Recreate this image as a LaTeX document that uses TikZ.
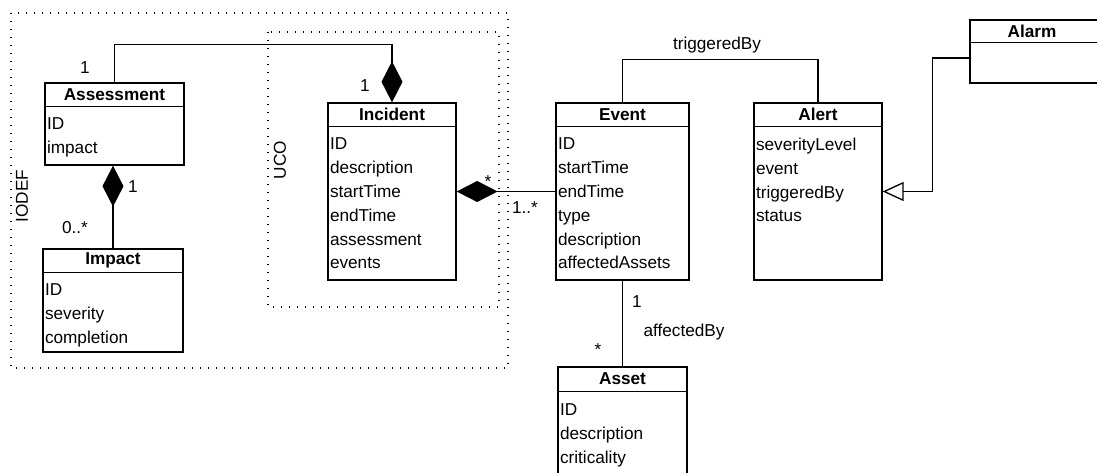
\documentclass[tikz,border=0pt]{standalone}
\usepackage{pgf,tikz}
\usepackage{fontspec}
\setmainfont{Liberation Sans}
\usetikzlibrary{arrows.meta}

\begin{document}
\begin{tikzpicture}[x=1pt,y=-1pt,line width=1.3pt]
			\tikzstyle{every node}=[font=\fontsize{17.2}{23.8}\selectfont,inner sep=0pt]
			\tikzstyle{class}=[draw,rectangle]
			\tikzstyle{classname}=[font=\fontsize{17.2}{23.8}\selectfont\bfseries]
			\tikzstyle{attrs}=[anchor=north west,align=left]
			\tikzstyle{package}=[dash pattern=on 1.3pt off 6.7pt]
			\tikzstyle{comp}=[-{Diamond[length=41pt,width=21pt]}]
			\tikzstyle{gen}=[-{Triangle[open,length=21pt,width=19pt]}]
			\useasboundingbox (0,0) rectangle (1097,473);
			% packages
			\draw[package] (11,13) rectangle (508,368);
			\draw[package] (268,32) rectangle (499,307);
			\node[rotate=90] (iodef) at (22,196) {IODEF};
			\node[rotate=90] (uco) at (280,160) {UCO};
			% classes
			\node[class,minimum width=139,minimum height=82] (assessment) at (114.5,124) {};
			\draw (assessment.north west) ++(0,24) -- ++(139,0);
			\node[classname] (assessment-n) at ([yshift=-12pt]assessment.north) {Assessment};
			\node[attrs] (assessment-a) at ([xshift=2pt,yshift=-35pt]assessment.north west) {ID\\impact};
			\node[class,minimum width=140,minimum height=103] (impact) at (113,300.5) {};
			\draw (impact.north west) ++(0,24) -- ++(140,0);
			\node[classname] (impact-n) at ([yshift=-12pt]impact.north) {Impact};
			\node[attrs] (impact-a) at ([xshift=2pt,yshift=-35pt]impact.north west) {ID\\severity\\completion};
			\node[class,minimum width=128,minimum height=177] (incident) at (392,191.5) {};
			\draw (incident.north west) ++(0,24) -- ++(128,0);
			\node[classname] (incident-n) at ([yshift=-12pt]incident.north) {Incident};
			\node[attrs] (incident-a) at ([xshift=2pt,yshift=-35pt]incident.north west)
				{ID\\description\\startTime\\endTime\\assessment\\events};
			\node[class,minimum width=133,minimum height=177] (event) at (622.5,191.5) {};
			\draw (event.north west) ++(0,24) -- ++(133,0);
			\node[classname] (event-n) at ([yshift=-12pt]event.north) {Event};
			\node[attrs] (event-a) at ([xshift=2pt,yshift=-35pt]event.north west)
				{ID\\startTime\\endTime\\type\\description\\affectedAssets};
			\node[class,minimum width=128,minimum height=177] (alert) at (818,191.5) {};
			\draw (alert.north west) ++(0,24) -- ++(128,0);
			\node[classname] (alert-n) at ([yshift=-12pt]alert.north) {Alert};
			\node[attrs] (alert-a) at ([xshift=2pt,yshift=-35pt]alert.north west)
				{severityLevel\\event\\triggeredBy\\status};
			\node[class,minimum width=130,minimum height=63] (alarm) at (1035,51.5) {};
			\draw (alarm.north west) ++(0,23) -- ++(130,0);
			\node[classname] (alarm-n) at (1032,31.5) {Alarm};
			\node[class,minimum width=129,minimum height=109] (asset) at (622.5,421.5) {};
			\draw (asset.north west) ++(0,25) -- ++(129,0);
			\node[classname] (asset-n) at ([yshift=-12.5pt]asset.north) {Asset};
			\node[attrs] (asset-a) at ([xshift=2pt,yshift=-37pt]asset.north west)
				{ID\\description\\criticality};
			% connectors
			\draw[comp] (assessment.north) -- ++(0,-38) -| (incident.north);
			\draw[comp] (impact.north) -- (impact.north |- assessment.south);
			\draw[comp] (event.west) -- (incident.east);
			\draw (event.north) -- ++(0,-43) -| (alert.north);
			\draw[gen] ([yshift=-6.5pt]alarm.west) -- ++(-37,0) |- (alert.east);
			\draw (event.south) -- (asset.north);
			% multiplicities
			\node (m-ass) at (85,68) {1};
			\node (m-inc) at (365,86) {1};
			\node (m-ass2) at (133,187) {1};
			\node (m-imp) at (75,228) {0..*};
			\node (m-inc2) at (488,182) {*};
			\node (m-ev) at (525,208) {1..*};
			\node (trig) at (717,45) {triggeredBy};
			\node (m-ev2) at (637,302) {1};
			\node (aff) at (684,332) {affectedBy};
			\node (m-as) at (598,350) {*};
		\end{tikzpicture}
\end{document}
